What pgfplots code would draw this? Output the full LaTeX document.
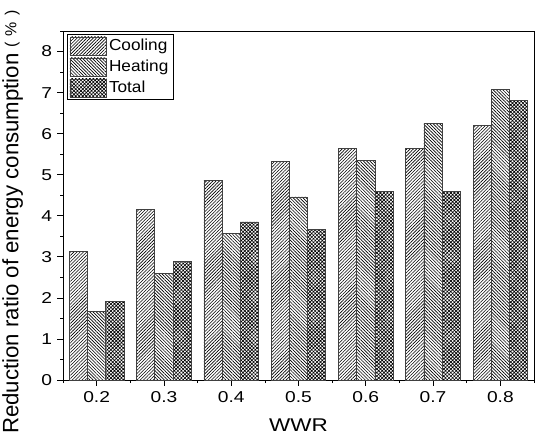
\documentclass[border=0pt]{standalone}
\usepackage{pgfplots}
\pgfplotsset{compat=1.18}
\usepackage{fontspec}
\setmainfont{Liberation Sans}
\newfontfamily\tickfont{Liberation Sans}[FakeStretch=1.22]
\newfontfamily\legfont{Liberation Sans}[FakeStretch=1.08]
\usetikzlibrary{patterns.meta,calc}
\newcommand{\tfs}{\tickfont\fontsize{15.8}{18}\selectfont}
\newcommand{\lfs}{\tickfont\fontsize{18.5}{21}\selectfont}
\newcommand{\yfs}{\rmfamily\fontsize{22.3}{26}\selectfont}
\newcommand{\gfs}{\legfont\fontsize{16}{18}\selectfont}
\begin{document}
\begin{tikzpicture}
\begin{axis}[
  name=ax,
  scale only axis,
  width=471bp, height=349bp,
  ybar,
  bar width=0.27,
  xmin=-0.5, xmax=6.5,
  ymin=0, ymax=8.5,
  xtick={0,1,2,3,4,5,6},
  xticklabels={0.2,0.3,0.4,0.5,0.6,0.7,0.8},
  minor xtick={-0.5,0.5,1.5,2.5,3.5,4.5,5.5,6.5},
  ytick={0,1,...,8},
  minor ytick={0.5,1.5,...,8.5},
  tick pos=left,
  tick align=outside,
  major tick length=5.5bp,
  minor tick length=3bp,
  tick style={black, line width=0.7pt},
  axis line style={black, line width=0.8pt},
  /pgf/number format/assume math mode=true,
  ticklabel style={font=\tfs},
  xticklabel style={yshift=-2bp},
  yticklabel style={xshift=-2bp},
  xlabel={WWR},
  ylabel={Reduction ratio of energy consumption{\fontsize{16}{18}\selectfont\hspace{6bp}\raisebox{2bp}{(\hspace{6bp}\%\hspace{6bp})}}},
  xlabel style={font=\lfs, at={(rel axis cs:0.5,0)}, anchor=south, yshift=-52bp, inner sep=0pt},
  ylabel style={font=\yfs, at={($(rel axis cs:0,0)+(-61bp,-54bp)$)}, anchor=north west, inner sep=0pt},
  legend style={at={(rel axis cs:0.008,0.992)}, anchor=north west, font=\gfs,
    draw=black, line width=0.6pt, inner sep=2.5pt, row sep=2.5pt, cells={anchor=west}},
  legend image code/.code={\draw[#1, line width=0.6pt] (0pt,-9pt) rectangle (37pt,9pt);},
]
\addplot[bar shift=-0.27, draw=black!75, line width=0.7pt, pattern={Lines[angle=45,distance=2.3pt,line width=0.6pt]}]
  coordinates {(0,3.13) (1,4.15) (2,4.86) (3,5.33) (4,5.65) (5,5.63) (6,6.20)};
\addplot[bar shift=0, draw=black!75, line width=0.7pt, pattern={Lines[angle=-45,distance=2.3pt,line width=0.65pt]}]
  coordinates {(0,1.67) (1,2.59) (2,3.58) (3,4.46) (4,5.35) (5,6.25) (6,7.07)};
\addplot[bar shift=0.27, draw=black!75, line width=0.7pt, pattern={Hatch[angle=45,distance=2.5pt,line width=0.65pt]}]
  coordinates {(0,1.92) (1,2.89) (2,3.85) (3,3.67) (4,4.59) (5,4.59) (6,6.80)};
\legend{Cooling,Heating,Total}
\end{axis}
\pgfresetboundingbox
\path ($(ax.south west)+(-63bp,-56bp)$) rectangle ($(ax.north east)+(1bp,31bp)$);
\end{tikzpicture}
\end{document}
